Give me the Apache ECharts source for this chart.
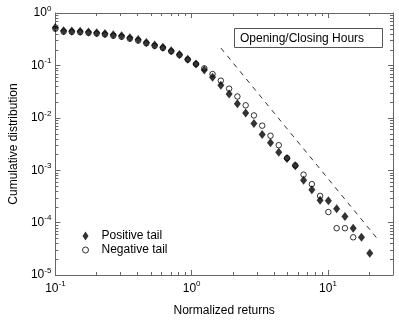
<!DOCTYPE html>
<html>
<head>
<meta charset="utf-8">
<script src="https://cdn.jsdelivr.net/npm/echarts@6/dist/echarts.min.js"></script>
<style>html,body{margin:0;padding:0;background:#fff;}#c{width:399px;height:322px;}</style>
</head>
<body>
<div id="c"></div>
<script>
// Normalized returns (x) for each bin
var xValues = [0.100,0.115,0.132,0.152,0.175,0.201,0.231,0.266,0.306,0.352,0.405,0.465,0.535,0.615,0.708,0.814,0.936,1.076,1.238,1.423,1.637,1.883,2.165,2.490,2.863,3.293,3.787,4.355,5.008,5.759,6.622,7.616,8.758,10.07,11.58,13.32,15.31,17.62,20.26];
// Cumulative distribution, positive tail
var positiveTail = [0.528,0.458,0.453,0.447,0.434,0.422,0.405,0.383,0.368,0.338,0.311,0.275,0.245,0.223,0.191,0.162,0.131,0.106,0.0819,0.0594,0.0420,0.0285,0.0185,0.0124,0.00781,0.00480,0.00334,0.00220,0.00167,0.00121,0.000640,0.000422,0.000267,0.000262,0.000183,0.000131,0.0000782,0.0000524,0.0000261];
// Cumulative distribution, negative tail
var negativeTail = [0.50,0.44,0.435,0.43,0.417,0.405,0.389,0.368,0.352,0.324,0.298,0.264,0.236,0.215,0.185,0.158,0.129,0.106,0.0879,0.0684,0.0511,0.0360,0.0255,0.0173,0.0111,0.00708,0.00455,0.00300,0.00170,0.00123,0.000822,0.000542,0.000323,0.000159,0.0000782,0.0000782,0.0000524];
// Power-law guide line (dashed)
var guideX = [1.64, 23.3];
var guideY = [0.214, 0.0000474];
// Axis ranges
var xRange = [0.1, 30];
var yRange = [0.00001, 1];
// Minor tick positions
var xMinorTicks = [0.2,0.3,0.4,0.5,0.6,0.7,0.8,0.9,2,3,4,5,6,7,8,9,20];
var yMinorTicks = [];
[0.00001,0.0001,0.001,0.01,0.1].forEach(function(d){ for (var m=2;m<=9;m++) yMinorTicks.push(d*m); });

var FONT = 'Liberation Sans';
var AXC = '#666';

function fmt(v){
  var l = Math.log10(v), e = Math.round(l);
  if (Math.abs(l-e) > 1e-6) return '';
  return '{b|10}{s|' + e + '}';
}
var rich = {
  b:{fontSize:12, fontFamily:FONT, color:'#000'},
  s:{fontSize:8, fontFamily:FONT, color:'#000', padding:[0,0,9,0]}
};

function pairs(xs, ys){ return ys.map(function(y,i){ return [xs[i], y]; }); }

var chart = echarts.init(document.getElementById('c'), null, {renderer:'canvas'});
var baseAxis = {
  type:'log', logBase:10, interval:1,
  axisLine:{show:true, lineStyle:{color:AXC, width:1}},
  axisTick:{show:true, inside:true, length:5, lineStyle:{color:AXC}},
  splitLine:{show:false}, minorTick:{show:false}
};
function ax(extra){ return Object.assign({}, baseAxis, extra); }

chart.setOption({
  animation:false,
  backgroundColor:'#fff',
  grid:{left:41, right:6, top:13, bottom:33, containLabel:false},
  xAxis:[
    ax({position:'bottom', min:xRange[0], max:xRange[1],
        name:'Normalized returns', nameLocation:'middle', nameGap:30,
        nameTextStyle:{fontSize:12, fontFamily:FONT, color:'#000'},
        axisLabel:{formatter:fmt, rich:rich, margin:5, showMaxLabel:false}}),
    ax({position:'top', min:xRange[0], max:xRange[1], axisLabel:{show:false}})
  ],
  yAxis:[
    ax({position:'left', min:yRange[0], max:yRange[1],
        name:'Cumulative distribution', nameLocation:'middle', nameGap:35, nameRotate:90,
        nameTextStyle:{fontSize:12, fontFamily:FONT, color:'#000'},
        axisLabel:{formatter:fmt, rich:rich, margin:4}}),
    ax({position:'right', min:yRange[0], max:yRange[1], axisLabel:{show:false}})
  ],
  legend:{
    data:['Positive tail','Negative tail'], orient:'vertical', left:77, top:224,
    itemWidth:6, itemHeight:9, itemGap:0, selectedMode:false,
    itemStyle:{borderWidth:1},
    textStyle:{fontSize:12, fontFamily:FONT, color:'#000', lineHeight:14, padding:[0,0,0,8]}
  },
  graphic:[{
    type:'group', left:234, top:28,
    children:[
      {type:'rect', shape:{x:0.5, y:0.5, width:148, height:19}, style:{fill:'#fff', stroke:'#555', lineWidth:1}},
      {type:'text', x:6, y:10.5, style:{text:'Opening/Closing Hours', font:'12px "Liberation Sans"', fill:'#000', verticalAlign:'middle'}}
    ]
  }],
  series:[
    {type:'line', name:'guide', data:pairs(guideX, guideY), symbol:'none', silent:true,
     lineStyle:{color:'#333', width:1, type:[5,5]}, z:1},
    {type:'scatter', name:'Negative tail', data:pairs(xValues, negativeTail), symbol:'circle', symbolSize:5.5,
     itemStyle:{color:'rgba(255,255,255,0)', borderColor:'#000', borderWidth:1}, z:2},
    {type:'scatter', name:'Positive tail', data:pairs(xValues, positiveTail), symbol:'diamond', symbolSize:[7,9],
     itemStyle:{color:'#000'}, z:3},
    {type:'custom', name:'xminor', silent:true, data:xMinorTicks.map(function(v){return [v, yRange[0]];}),
     renderItem:function(params, api){
       var v = api.value(0);
       var b = api.coord([v, yRange[0]]), t = api.coord([v, yRange[1]]);
       var x = Math.round(b[0]) + 0.5;
       return {type:'group', children:[
         {type:'line', shape:{x1:x, y1:b[1], x2:x, y2:b[1]-3}, style:{stroke:AXC, lineWidth:1}},
         {type:'line', shape:{x1:x, y1:t[1], x2:x, y2:t[1]+3}, style:{stroke:AXC, lineWidth:1}}
       ]};
     }, clip:false, z:4},
    {type:'custom', name:'yminor', silent:true, data:yMinorTicks.map(function(v){return [xRange[0], v];}),
     renderItem:function(params, api){
       var v = api.value(1);
       var l = api.coord([xRange[0], v]), r = api.coord([xRange[1], v]);
       var y = Math.round(l[1]) + 0.5;
       return {type:'group', children:[
         {type:'line', shape:{x1:l[0], y1:y, x2:l[0]+3, y2:y}, style:{stroke:AXC, lineWidth:1}},
         {type:'line', shape:{x1:r[0], y1:y, x2:r[0]-3, y2:y}, style:{stroke:AXC, lineWidth:1}}
       ]};
     }, clip:false, z:4}
  ]
});
</script>
</body>
</html>
